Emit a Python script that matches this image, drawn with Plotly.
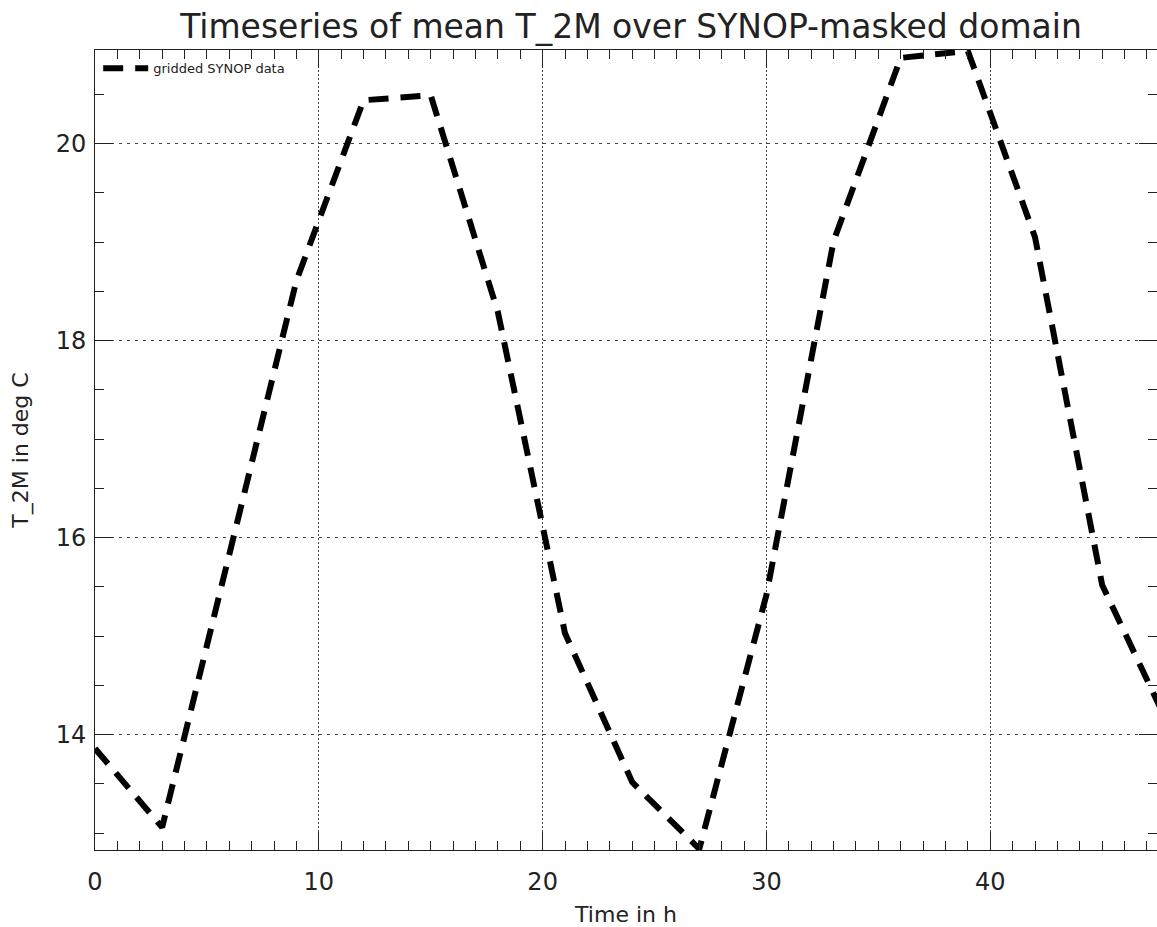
import plotly.graph_objects as go

# Data (3-hourly)
time_h = [0, 3, 6, 9, 12, 15, 18, 21, 24, 27, 30, 33, 36, 39, 42, 45, 48]
t2m_synop = [13.86, 13.06, 15.83, 18.61, 20.44, 20.49, 18.29, 15.03, 13.52,
             12.84, 15.42, 19.01, 20.87, 20.94, 19.05, 15.52, 14.08]
x_ticks = [0, 10, 20, 30, 40]
y_ticks = [14, 16, 18, 20]

series_name = "gridded SYNOP data"
title_text = "Timeseries of mean T_2M over SYNOP-masked domain"
x_title = "Time in h"
y_title = "T_2M in deg C"

FONT = "DejaVu Sans"
INK = "#222222"

fig = go.Figure()
fig.add_trace(go.Scatter(
    x=time_h, y=t2m_synop, mode="lines", name=series_name,
    line=dict(color="black", width=6, dash="20px,12px"),
    showlegend=True,
))

W, H = 1157, 927
left, top, bottom = 95, 50, 850

fig.update_layout(
    width=W, height=H,
    margin=dict(l=left, r=0, t=top, b=H - bottom, autoexpand=False),
    paper_bgcolor="white", plot_bgcolor="white",
    font=dict(family=FONT, color=INK, size=22),
    title=dict(text=title_text, font=dict(family=FONT, size=33, color=INK),
               x=631 / W, xref="container", xanchor="center",
               y=1 - 26 / H, yref="container", yanchor="middle"),
    showlegend=True,
    legend=dict(x=0.003, y=0.996, xanchor="left", yanchor="top",
                bgcolor="rgba(0,0,0,0)", borderwidth=0,
                font=dict(family=FONT, size=13, color=INK),
                itemwidth=45),
)

fig.update_xaxes(
    range=[0, 47.45], tickvals=x_ticks, ticktext=[str(v) for v in x_ticks],
    showline=True, linecolor="#222", linewidth=1, mirror="ticks",
    ticks="inside", ticklen=18, tickwidth=1, tickcolor="#222",
    minor=dict(dtick=1, ticks="inside", ticklen=9, tickwidth=1, tickcolor="#222", showgrid=False),
    showgrid=True, gridcolor="#444", gridwidth=1, griddash="1.5px,2.5px",
    zeroline=False,
    tickfont=dict(family=FONT, size=24, color=INK),
    ticklabelstandoff=10,
    title=dict(text=x_title, font=dict(family=FONT, size=22, color=INK), standoff=18),
    automargin=False,
)
fig.update_yaxes(
    range=[12.83, 20.95], tickvals=y_ticks, ticktext=[str(v) for v in y_ticks],
    showline=True, linecolor="#222", linewidth=1, mirror="ticks",
    ticks="inside", ticklen=18, tickwidth=1, tickcolor="#222",
    minor=dict(dtick=0.5, ticks="inside", ticklen=9, tickwidth=1, tickcolor="#222", showgrid=False),
    showgrid=True, gridcolor="#444", gridwidth=1, griddash="3px,5px",
    zeroline=False,
    tickfont=dict(family=FONT, size=24, color=INK),
    ticklabelstandoff=3,
    title=dict(text=y_title, font=dict(family=FONT, size=22, color=INK), standoff=20),
    automargin=False,
)

# remove the default page margin and scrollbars so the figure fills the window
fig.write_html(
    "out.html",
    config={"displayModeBar": False},
    post_script="document.body.style.margin='0';document.documentElement.style.overflow='hidden';document.body.style.overflow='hidden';",
)
